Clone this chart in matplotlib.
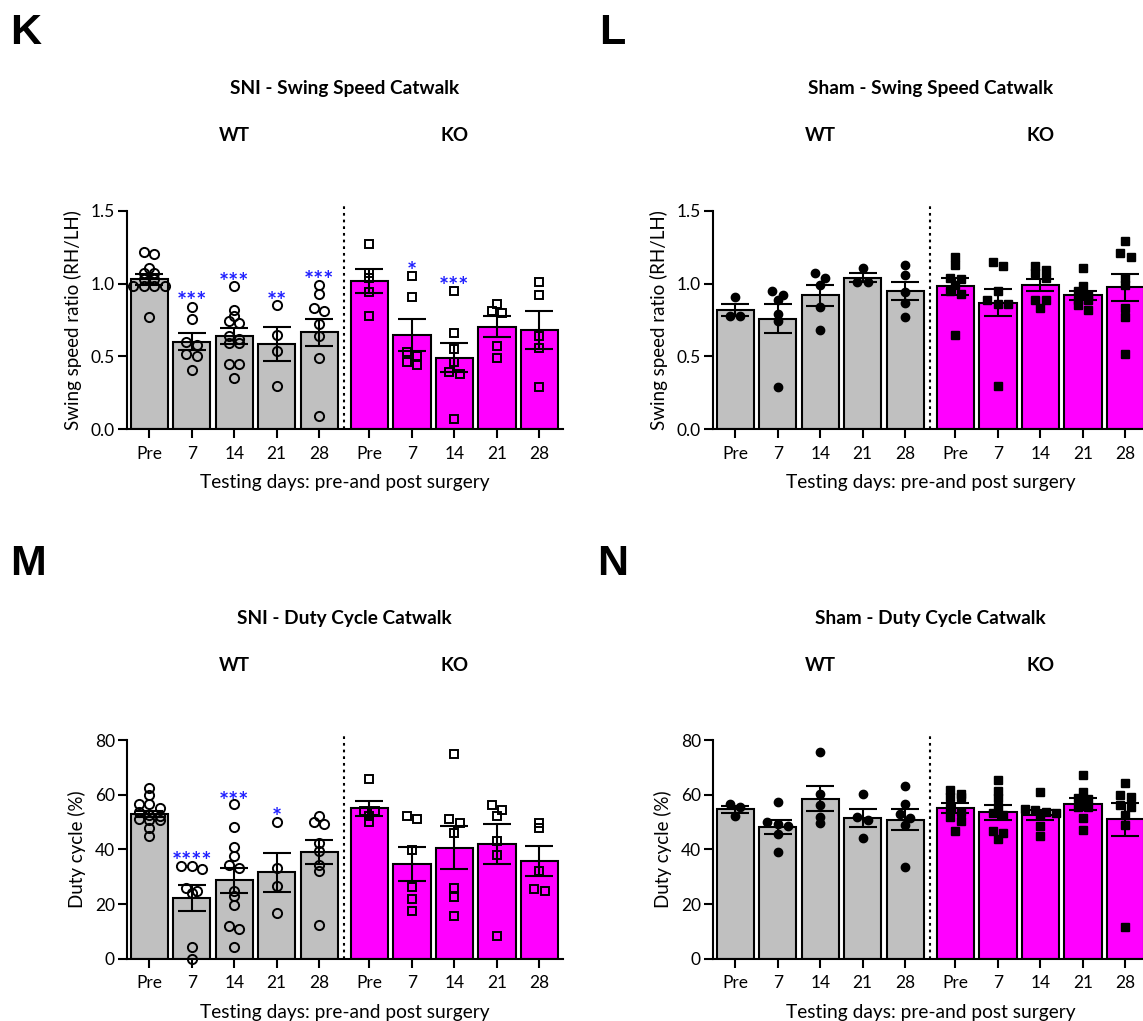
import numpy as np
import matplotlib
matplotlib.use("Agg")
import matplotlib.pyplot as plt

# ---------------- data ----------------
days = ["Pre", "7", "14", "21", "28"]

# Panel K: SNI swing speed ratio
k_wt_pts = [
    [1.22, 1.20, 1.11, 1.07, 1.07, 1.03, 1.03, 0.98, 0.98, 0.98, 0.98, 0.77],
    [0.84, 0.76, 0.60, 0.52, 0.58, 0.50, 0.41],
    [0.98, 0.73, 0.82, 0.78, 0.74, 0.64, 0.62, 0.59, 0.59, 0.45, 0.45, 0.35],
    [0.85, 0.65, 0.54, 0.30],
    [0.99, 0.93, 0.83, 0.81, 0.72, 0.64, 0.49, 0.09],
]
k_ko_pts = [
    [1.27, 1.075, 1.036, 0.944, 0.78],
    [1.05, 0.91, 0.50, 0.53, 0.46, 0.44],
    [0.95, 0.66, 0.55, 0.46, 0.38, 0.39, 0.07],
    [0.86, 0.81, 0.80, 0.57, 0.49],
    [1.01, 0.92, 0.64, 0.56, 0.29],
]
k_wt_mean = [1.03, 0.60, 0.64, 0.585, 0.665]
k_wt_sem = [0.037, 0.058, 0.058, 0.117, 0.093]
k_ko_mean = [1.015, 0.645, 0.49, 0.705, 0.68]
k_ko_sem = [0.082, 0.109, 0.10, 0.071, 0.129]
k_wt_stars = ["", "***", "***", "**", "***"]
k_wt_star_y = [0, 0.91, 1.04, 0.915, 1.06]
k_ko_stars = ["", "*", "***", "", ""]
k_ko_star_y = [0, 1.116, 1.018, 0, 0]

# Panel L: Sham swing speed ratio
l_wt_pts = [
    [0.91, 0.78, 0.78],
    [0.95, 0.89, 0.92, 0.79, 0.74, 0.29],
    [1.07, 1.04, 0.99, 0.84, 0.68],
    [1.11, 1.01, 1.01],
    [1.13, 1.06, 0.94, 0.87, 0.77],
]
l_ko_pts = [
    [1.18, 1.13, 1.03, 1.04, 0.95, 0.99, 0.93, 0.65],
    [1.15, 1.12, 0.95, 0.89, 0.86, 0.86, 0.30],
    [1.12, 1.09, 1.07, 1.04, 0.89, 0.89, 0.83],
    [1.11, 0.985, 0.89, 0.89, 0.82, 0.85, 0.95, 0.92],
    [1.29, 1.21, 1.18, 1.04, 0.99, 0.83, 0.77, 0.52],
]
l_wt_mean = [0.82, 0.76, 0.92, 1.04, 0.95]
l_wt_sem = [0.042, 0.10, 0.072, 0.032, 0.063]
l_ko_mean = [0.98, 0.87, 0.99, 0.92, 0.975]
l_ko_sem = [0.057, 0.092, 0.038, 0.031, 0.092]

# Panel M: SNI duty cycle
m_wt_pts = [
    [62.3, 59.9, 56.6, 56.6, 55.0, 52.6, 52.2, 50.7, 51.2, 50.7, 47.7, 44.9, 53.5],
    [33.9, 33.9, 32.8, 26.0, 23.9, 24.9, 4.1, 0.0],
    [56.5, 48.0, 40.7, 37.6, 34.1, 33.2, 24.9, 23.0, 19.6, 12.1, 10.9, 4.4],
    [50.1, 33.3, 26.7, 16.6],
    [52.2, 49.3, 49.9, 42.4, 39.5, 34.3, 32.1, 12.4],
]
m_ko_pts = [
    [65.6, 54.1, 50.1, 54.0, 52.2],
    [51.0, 52.3, 39.8, 26.3, 21.8, 17.6],
    [74.9, 51.0, 49.5, 46.1, 25.7, 22.7, 15.6],
    [56.2, 54.4, 52.3, 43.2, 37.9, 8.4],
    [49.8, 47.7, 32.2, 24.8, 25.4],
]
m_wt_mean = [53.0, 22.3, 28.7, 31.6, 39.2]
m_wt_sem = [1.2, 4.7, 4.6, 7.2, 4.4]
m_ko_mean = [55.0, 34.6, 40.6, 42.0, 35.8]
m_ko_sem = [2.8, 6.3, 7.8, 7.3, 5.4]
m_wt_stars = ["", "****", "***", "*", ""]
m_wt_star_y = [0, 37.6, 59.5, 53.7, 0]

# Panel N: Sham duty cycle
n_wt_pts = [
    [56.6, 55.4, 52.3],
    [57.4, 49.3, 50.1, 48.5, 45.6, 39.1],
    [75.5, 60.2, 56.2, 49.8, 52.0],
    [60.2, 51.7, 50.7, 44.3],
    [63.2, 56.6, 52.8, 51.6, 48.8, 33.7],
]
n_ko_pts = [
    [59.3, 60.1, 61.7, 59.0, 53.8, 55.0, 51.7, 50.5, 46.7],
    [65.4, 61.3, 58.7, 53.4, 55.4, 52.6, 46.8, 46.1, 43.7],
    [61.1, 54.6, 54.4, 53.8, 52.6, 53.4, 48.5, 44.9],
    [67.2, 58.7, 61.1, 58.3, 55.4, 55.4, 51.6, 47.1],
    [64.1, 59.0, 59.9, 56.2, 55.4, 52.6, 48.9, 11.5],
]
n_wt_mean = [54.6, 48.1, 58.5, 51.5, 50.9]
n_wt_sem = [1.3, 2.6, 4.6, 3.2, 4.0]
n_ko_mean = [55.1, 53.6, 52.7, 56.6, 51.0]
n_ko_sem = [1.9, 2.7, 1.8, 2.2, 6.0]

# ---------------- style ----------------
W, H = 1143, 1021
FONT = "Lato"
GRAY = "#C0C0C0"
MAGENTA = "#FF00FF"
STAR = "#1F1FFF"
LW = 1.5
GAP = 1.18            # shift of KO group
BAR_W = 0.88
XLIM = (-0.53, 9.73)

plt.rcParams["font.family"] = [FONT, "DejaVu Sans"]

fig = plt.figure(figsize=(W / 100, H / 100), dpi=100)


def add_ax(left, bottom, width, height):
    return fig.add_axes([left / W, 1 - bottom / H, width / W, height / H])


def swarm(vals, ypp, xpp, d=10.5, row_px=5.0):
    """Row-based scatter layout (points within row_px vertically share a row)."""
    vals = np.asarray(vals, float)
    order = np.argsort(-vals)
    offs = np.zeros(len(vals))
    rows, cur = [], [order[0]]
    for idx in order[1:]:
        if (vals[cur[0]] - vals[idx]) * ypp < row_px:
            cur.append(idx)
        else:
            rows.append(cur)
            cur = [idx]
    rows.append(cur)
    for r in rows:
        n = len(r)
        for i, idx in enumerate(r):
            offs[idx] = (i - (n - 1) / 2) * d / xpp
    return offs


def panel(box, title, ylabel, ymax, yticks, yticklabels, wt_pts, wt_mean, wt_sem,
          ko_pts, ko_mean, ko_sem, marker_wt, marker_ko, filled,
          wt_stars=None, wt_star_y=None, ko_stars=None, ko_star_y=None):
    left, bottom, width, height = box
    ax = add_ax(left, bottom, width, height)
    ax.set_xlim(*XLIM)
    ax.set_ylim(0, ymax)
    xpp = width / (XLIM[1] - XLIM[0])
    ypp = height / ymax
    xw = np.arange(5)
    xk = np.arange(5) + 4 + GAP
    ax.bar(xw, wt_mean, width=BAR_W, color=GRAY, edgecolor="black", linewidth=LW, zorder=1)
    ax.bar(xk, ko_mean, width=BAR_W, color=MAGENTA, edgecolor="black", linewidth=LW, zorder=1)
    for xs, pts, mk in ((xw, wt_pts, marker_wt), (xk, ko_pts, marker_ko)):
        for x0, p in zip(xs, pts):
            off = swarm(p, ypp, xpp)
            if filled:
                ax.plot(x0 + off, p, linestyle="none", marker=mk, ms=6.0 if mk == "o" else 5.6,
                        mfc="black", mec="black", zorder=3, clip_on=False)
            else:
                ax.plot(x0 + off, p, linestyle="none", marker=mk, ms=6.6 if mk == "o" else 6.0,
                        mfc="none", mec="black", mew=1.4, zorder=3, clip_on=False)
    ax.errorbar(xw, wt_mean, yerr=wt_sem, fmt="none", ecolor="black", elinewidth=LW,
                capsize=10, capthick=LW, zorder=4)
    ax.errorbar(xk, ko_mean, yerr=ko_sem, fmt="none", ecolor="black", elinewidth=LW,
                capsize=10, capthick=LW, zorder=4)
    # dotted separator
    xs = (4 + xk[0]) / 2
    ax.plot([xs, xs], [0, ymax * 1.025], color="black", lw=LW, linestyle=(0, (1.3, 1.9)),
            clip_on=False, zorder=2)
    # stars
    for xs_, stars, sy in ((xw, wt_stars, wt_star_y), (xk, ko_stars, ko_star_y)):
        if stars is None:
            continue
        for x0, s, y in zip(xs_, stars, sy):
            if s:
                ax.annotate(s, (x0, y), xytext=(0, -4.5), textcoords="offset points",
                            color=STAR, fontsize=17, fontweight="bold",
                            ha="center", va="center", family=FONT)
    # axes style
    for sp in ("top", "right"):
        ax.spines[sp].set_visible(False)
    for sp in ("left", "bottom"):
        ax.spines[sp].set_linewidth(LW)
    ax.set_xticks(list(xw) + list(xk))
    ax.set_xticklabels(days + days)
    ax.set_yticks(yticks)
    ax.set_yticklabels(yticklabels)
    ax.tick_params(axis="both", direction="out", length=6.5, width=LW, labelsize=12.5,
                   colors="black")
    ax.tick_params(axis="y", pad=2)
    ax.tick_params(axis="x", pad=5.5)
    ax.set_xlabel("Testing days: pre-and post surgery", fontsize=13.8, labelpad=9)
    ax.set_ylabel(ylabel, fontsize=13.5, labelpad=6)
    # titles
    ax.text(0.5, 1 + 122 / height, title, transform=ax.transAxes, ha="center", va="center",
            fontsize=13.7, fontweight="bold")
    ytop = 1 + 75 / height
    ax.text(2, ytop, "WT", transform=ax.get_xaxis_transform(), ha="center", va="center",
            fontsize=13.5, fontweight="bold")
    ax.text(xk[2], ytop, "KO", transform=ax.get_xaxis_transform(), ha="center", va="center",
            fontsize=13.5, fontweight="bold")
    return ax


panel((126.7, 429.3, 436, 218.6), "SNI - Swing Speed Catwalk", "Swing speed ratio (RH/LH)",
      1.5, [0, 0.5, 1.0, 1.5], ["0.0", "0.5", "1.0", "1.5"],
      k_wt_pts, k_wt_mean, k_wt_sem, k_ko_pts, k_ko_mean, k_ko_sem, "o", "s", False,
      k_wt_stars, k_wt_star_y, k_ko_stars, k_ko_star_y)
panel((712.7, 429.3, 436, 218.6), "Sham - Swing Speed Catwalk", "Swing speed ratio (RH/LH)",
      1.5, [0, 0.5, 1.0, 1.5], ["0.0", "0.5", "1.0", "1.5"],
      l_wt_pts, l_wt_mean, l_wt_sem, l_ko_pts, l_ko_mean, l_ko_sem, "o", "s", True)
panel((126.7, 958.7, 436, 218.7), "SNI - Duty Cycle Catwalk", "Duty cycle (%)",
      80, [0, 20, 40, 60, 80], ["0", "20", "40", "60", "80"],
      m_wt_pts, m_wt_mean, m_wt_sem, m_ko_pts, m_ko_mean, m_ko_sem, "o", "s", False,
      m_wt_stars, m_wt_star_y, None, None)
panel((712.7, 958.7, 436, 218.7), "Sham - Duty Cycle Catwalk", "Duty cycle (%)",
      80, [0, 20, 40, 60, 80], ["0", "20", "40", "60", "80"],
      n_wt_pts, n_wt_mean, n_wt_sem, n_ko_pts, n_ko_mean, n_ko_sem, "o", "s", True)

for lab, x, y in (("K", 26, 33), ("L", 612, 33), ("M", 28, 564), ("N", 613, 564)):
    fig.text(x / W, 1 - y / H, lab, fontsize=31, fontweight="bold", ha="center", va="center",
             family="Liberation Sans")

fig.savefig("out.png", dpi=100)
